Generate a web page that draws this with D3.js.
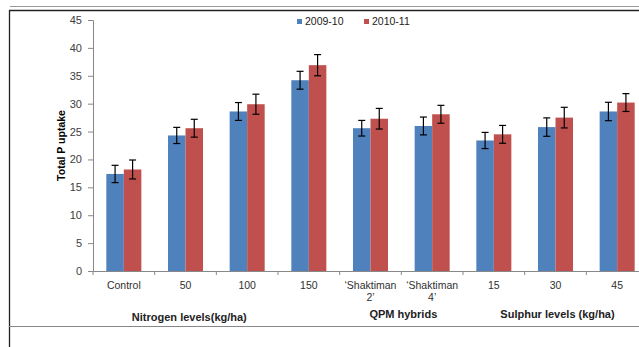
<!DOCTYPE html>
<html>
<head>
<meta charset="utf-8">
<script src="https://cdn.jsdelivr.net/npm/d3@7"></script>
<style>
  body { margin: 0; background: #fff; }
  svg { display: block; font-family: "Liberation Sans", Arial, sans-serif; }
</style>
</head>
<body>
<div id="chart"></div>
<script>
// data
var categories = ["Control", "50", "100", "150", "‘Shaktiman|2’", "‘Shaktiman|4’", "15", "30", "45"];
var series = ["2009-10", "2010-11"];
var values2009 = [17.4, 24.3, 28.6, 34.2, 25.6, 26.0, 23.4, 25.8, 28.6];
var values2010 = [18.2, 25.6, 29.9, 36.9, 27.3, 28.1, 24.5, 27.5, 30.2];
var err2009 = [1.55, 1.45, 1.6, 1.6, 1.4, 1.6, 1.45, 1.65, 1.65];
var err2010 = [1.7, 1.6, 1.8, 1.9, 1.85, 1.6, 1.6, 1.85, 1.6];
var yTicks = [0, 5, 10, 15, 20, 25, 30, 35, 40, 45];
var groups = ["Nitrogen levels(kg/ha)", "QPM hybrids", "Sulphur levels (kg/ha)"];
var groupSpan = [[0, 3], [4, 5], [6, 8]];
var colors = ["#4F81BD", "#C0504D"];

var width = 639, height = 347;
var plotLeft = 93, plotRight = 648, plotTop = 20, plotBottom = 271;

var svg = d3.select("#chart")
  .append("svg")
    .attr("width", width)
    .attr("height", height);

svg.append("rect").attr("width", width).attr("height", height).attr("fill", "#fff");

// frame lines
svg.append("line").attr("x1", 10).attr("x2", width).attr("y1", 6.5).attr("y2", 6.5)
  .attr("stroke", "#999").attr("stroke-width", 1);
svg.append("line").attr("x1", 9).attr("x2", width).attr("y1", 10.5).attr("y2", 10.5)
  .attr("stroke", "#222").attr("stroke-width", 1.3);
svg.append("line").attr("x1", 9.5).attr("x2", 9.5).attr("y1", 10).attr("y2", height)
  .attr("stroke", "#222").attr("stroke-width", 1.3);
svg.append("line").attr("x1", 9).attr("x2", width).attr("y1", 326.5).attr("y2", 326.5)
  .attr("stroke", "#888").attr("stroke-width", 1);

var x0 = d3.scaleBand()
  .domain(categories)
  .range([plotLeft, plotRight])
  .padding(0);

var x1 = d3.scaleBand()
  .domain(series)
  .range([x0.bandwidth() * 0.216, x0.bandwidth() * 0.784]);

var y = d3.scaleLinear()
  .domain([0, 45])
  .range([plotBottom, plotTop]);

// Y axis
var yAxis = svg.append("g")
  .attr("transform", "translate(" + plotLeft + ",0)")
  .call(d3.axisLeft(y).tickValues(yTicks).tickSize(5).tickPadding(6));
yAxis.select(".domain").attr("stroke", "#888");
yAxis.selectAll(".tick line").attr("stroke", "#888");
yAxis.selectAll(".tick text").attr("fill", "#404040").style("font-size", "11px");

svg.append("text")
  .attr("transform", "translate(65," + (plotTop + plotBottom) / 2 + ") rotate(-90)")
  .attr("text-anchor", "middle")
  .style("font-size", "10.5px")
  .style("font-weight", "bold")
  .text("Total P uptake");

// data rows
var rows = categories.map(function (c, i) {
  return [
    { cat: c, s: series[0], v: values2009[i], e: err2009[i], c: colors[0] },
    { cat: c, s: series[1], v: values2010[i], e: err2010[i], c: colors[1] }
  ];
});

var g = svg.selectAll("g.cat")
  .data(rows)
  .enter().append("g")
    .attr("class", "cat")
    .attr("transform", function (d) { return "translate(" + x0(d[0].cat) + ",0)"; });

g.selectAll("rect")
  .data(function (d) { return d; })
  .enter().append("rect")
    .attr("x", function (d) { return x1(d.s); })
    .attr("width", x1.bandwidth())
    .attr("y", function (d) { return y(d.v); })
    .attr("height", function (d) { return y(0) - y(d.v); })
    .attr("fill", function (d) { return d.c; });

// error bars
var eb = g.selectAll("g.err")
  .data(function (d) { return d; })
  .enter().append("g").attr("class", "err");
eb.append("line")
  .attr("x1", function (d) { return x1(d.s) + x1.bandwidth() / 2; })
  .attr("x2", function (d) { return x1(d.s) + x1.bandwidth() / 2; })
  .attr("y1", function (d) { return y(d.v + d.e); })
  .attr("y2", function (d) { return y(d.v - d.e); })
  .attr("stroke", "#000").attr("stroke-width", 1.2);
[1, -1].forEach(function (sgn) {
  eb.append("line")
    .attr("x1", function (d) { return x1(d.s) + x1.bandwidth() / 2 - 3.5; })
    .attr("x2", function (d) { return x1(d.s) + x1.bandwidth() / 2 + 3.5; })
    .attr("y1", function (d) { return y(d.v + sgn * d.e); })
    .attr("y2", function (d) { return y(d.v + sgn * d.e); })
    .attr("stroke", "#000").attr("stroke-width", 1.2);
});

// X axis
var xAxis = svg.append("g")
  .attr("transform", "translate(0," + plotBottom + ")")
  .call(d3.axisBottom(x0).tickSize(0).tickFormat(""));
xAxis.select(".domain").attr("stroke", "#888");

svg.append("g").selectAll("line")
  .data(categories)
  .enter().append("line")
    .attr("x1", function (d) { return x0(d); })
    .attr("x2", function (d) { return x0(d); })
    .attr("y1", plotBottom)
    .attr("y2", plotBottom + 4)
    .attr("stroke", "#888");

var labels = svg.append("g").selectAll("text")
  .data(categories)
  .enter().append("text")
    .attr("x", function (d) { return x0(d) + x0.bandwidth() / 2; })
    .attr("y", 289)
    .attr("text-anchor", "middle")
    .attr("fill", "#303030")
    .style("font-size", "10.5px");
labels.each(function (d) {
  var t = d3.select(this);
  d.split("|").forEach(function (part, k) {
    t.append("tspan")
      .attr("x", x0(d) + x0.bandwidth() / 2)
      .attr("dy", k === 0 ? 0 : 12)
      .text(part);
  });
});

// group labels (the nitrogen title sits left of its span's centre in the original)
svg.append("g").selectAll("text")
  .data(groups)
  .enter().append("text")
    .attr("x", function (d, i) {
      var sp = groupSpan[i];
      var mid = (x0(categories[sp[0]]) + x0(categories[sp[1]]) + x0.bandwidth()) / 2;
      return i === 0 ? mid - 27 : mid + 2;
    })
    .attr("y", function (d, i) { return i === 0 ? 320.5 : 318; })
    .attr("text-anchor", "middle")
    .style("font-size", "11px")
    .style("font-weight", "bold")
    .attr("fill", "#222")
    .text(function (d) { return d; });

// legend
var leg = svg.append("g").selectAll("g")
  .data(series)
  .enter().append("g")
    .attr("transform", function (d, i) { return "translate(" + (297 + i * 67) + ",18)"; });
leg.append("rect").attr("width", 5).attr("height", 5).attr("y", 1)
  .attr("fill", function (d, i) { return colors[i]; });
leg.append("text").attr("x", 8).attr("y", 7)
  .style("font-size", "10.5px").attr("fill", "#222")
  .text(function (d) { return d; });
</script>
</body>
</html>
